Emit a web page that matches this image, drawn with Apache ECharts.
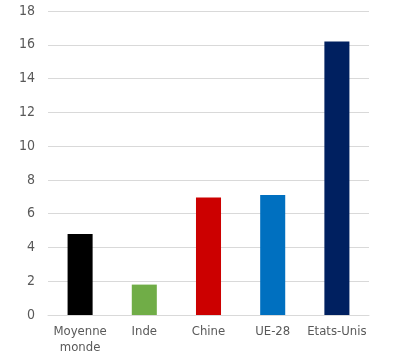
<!DOCTYPE html>
<html><head><meta charset="utf-8">
<script src="https://cdn.jsdelivr.net/npm/echarts@6/dist/echarts.min.js"></script>
<style>html,body{margin:0;padding:0;background:#fff}#c{width:397px;height:356px}</style>
</head><body><div id="c"></div>
<script>
const categories = ["Moyenne\nmonde", "Inde", "Chine", "UE-28", "Etats-Unis"];
const values = [4.8, 1.8, 6.95, 7.1, 16.2];
const colors = ["#000000", "#70AD47", "#CC0000", "#0070C0", "#002060"];
const yTicks = { min: 0, max: 18, interval: 2 };

const chart = echarts.init(document.getElementById('c'), null, { renderer: 'canvas' });
chart.setOption({
  animation: false,
  grid: { left: 48, right: 28, top: 11, bottom: 41, containLabel: false },
  xAxis: {
    type: 'category', data: categories,
    axisLine: { show: true, lineStyle: { color: '#d9d9d9', width: 1 } },
    axisTick: { show: false },
    axisLabel: { color: '#595959', fontFamily: 'DejaVu Sans Condensed, DejaVu Sans', fontSize: 13, margin: 9, lineHeight: 16, interval: 0 }
  },
  yAxis: {
    type: 'value', min: yTicks.min, max: yTicks.max, interval: yTicks.interval,
    axisLine: { show: false }, axisTick: { show: false },
    splitLine: { lineStyle: { color: '#d9d9d9', width: 1 } },
    axisLabel: { color: '#595959', fontFamily: 'DejaVu Sans Condensed, DejaVu Sans', fontSize: 14, margin: 13 }
  },
  series: [{
    type: 'bar', barWidth: '39%',
    data: values.map((v, i) => ({ value: v, itemStyle: { color: colors[i] } }))
  }]
});
</script></body></html>
